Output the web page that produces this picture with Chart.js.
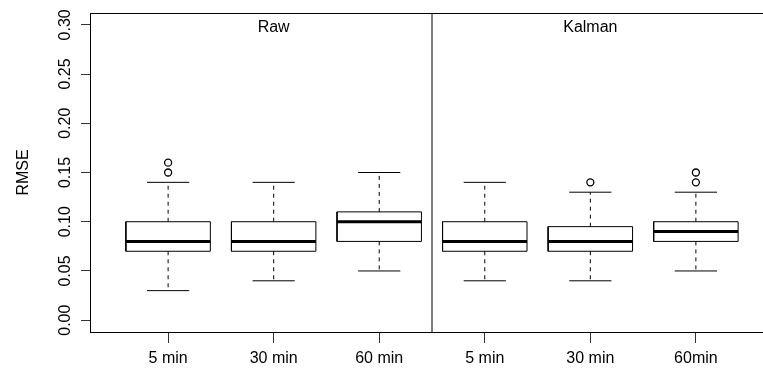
<!DOCTYPE html>
<html>
<head>
<meta charset="utf-8">
<script src="https://cdn.jsdelivr.net/npm/chart.js@4.4.0/dist/chart.umd.min.js"></script>
<style>
  html, body { margin: 0; padding: 0; background: #fff; overflow: hidden; }
  #wrap { width: 800px; height: 372px; }
</style>
</head>
<body>
<div id="wrap"><canvas id="ControlBoxplot"></canvas></div>
<script>
// box plot values
var categories = ['5 min', '30 min', '60 min', '5 min', '30 min', '60min'];
var panelTitles = ['Raw', 'Kalman'];
var whiskerLow = [0.03, 0.04, 0.05, 0.04, 0.04, 0.05];
var q1 = [0.07, 0.07, 0.08, 0.07, 0.07, 0.08];
var medians = [0.08, 0.08, 0.10, 0.08, 0.08, 0.09];
var q3 = [0.10, 0.10, 0.11, 0.10, 0.095, 0.10];
var whiskerHigh = [0.14, 0.14, 0.15, 0.14, 0.13, 0.13];
var outliers = [[0.15, 0.16], [], [], [], [0.14], [0.14, 0.15]];
var yTickValues = [0, 0.05, 0.10, 0.15, 0.20, 0.25, 0.30];
var yTickLabels = ['0.00', '0.05', '0.10', '0.15', '0.20', '0.25', '0.30'];
var yTitle = 'RMSE';

var FONT = '"Liberation Sans", Arial, Helvetica, sans-serif';
var BOX_HALF = 0.4;   // half box width, in category units
var CAP_HALF = 0.2;   // half staple width
var Y_MIN = -0.012, Y_MAX = 0.312;
var X_MIN = 0.26, X_MAX = 6.74;

var boxPts = [], medPts = [], whiskPts = [], capPts = [], outPts = [];
for (var i = 0; i < categories.length; i++) {
    var x = i + 1;
    boxPts.push({x: x - BOX_HALF, y: q1[i]}, {x: x + BOX_HALF, y: q1[i]},
                {x: x + BOX_HALF, y: q3[i]}, {x: x - BOX_HALF, y: q3[i]},
                {x: x - BOX_HALF, y: q1[i]}, {x: x, y: null});
    medPts.push({x: x - BOX_HALF, y: medians[i]}, {x: x + BOX_HALF, y: medians[i]}, {x: x, y: null});
    whiskPts.push({x: x, y: q3[i]}, {x: x, y: whiskerHigh[i]}, {x: x, y: null},
                  {x: x, y: q1[i]}, {x: x, y: whiskerLow[i]}, {x: x, y: null});
    capPts.push({x: x - CAP_HALF, y: whiskerHigh[i]}, {x: x + CAP_HALF, y: whiskerHigh[i]}, {x: x, y: null},
                {x: x - CAP_HALF, y: whiskerLow[i]}, {x: x + CAP_HALF, y: whiskerLow[i]}, {x: x, y: null});
    for (var k = 0; k < outliers[i].length; k++) {
        outPts.push({x: x, y: outliers[i][k]});
    }
}
// panel split between the third and fourth box
var splitX = 3.5;
var dividerPts = [{x: splitX, y: Y_MIN}, {x: splitX, y: Y_MAX}];

var lineDs = function (data, extra) {
    var ds = {
        data: data,
        showLine: true,
        spanGaps: false,
        borderColor: '#000',
        borderWidth: 1,
        pointRadius: 0,
        pointHoverRadius: 0,
        fill: false
    };
    for (var key in extra) ds[key] = extra[key];
    return ds;
};

var framePlugin = {
    id: 'framePlugin',
    beforeDatasetsDraw: function (chart) {
        var ctx = chart.ctx, a = chart.chartArea;
        ctx.save();
        ctx.strokeStyle = '#000';
        ctx.lineWidth = 1;
        ctx.strokeRect(a.left + 0.5, a.top + 0.5, a.right - a.left, a.bottom - a.top);
        ctx.restore();
    },
    afterDraw: function (chart) {
        var ctx = chart.ctx, a = chart.chartArea;
        var ys = chart.scales.y, xs = chart.scales.x;
        ctx.save();
        ctx.fillStyle = '#000';
        ctx.font = '16px ' + FONT;
        ctx.textAlign = 'center';
        ctx.textBaseline = 'alphabetic';
        // rotated y tick labels
        for (var i = 0; i < yTickValues.length; i++) {
            ctx.save();
            ctx.translate(70, ys.getPixelForValue(yTickValues[i]));
            ctx.rotate(-Math.PI / 2);
            ctx.fillText(yTickLabels[i], 0, 0);
            ctx.restore();
        }
        // axis title
        ctx.save();
        ctx.translate(28, (a.top + a.bottom) / 2);
        ctx.rotate(-Math.PI / 2);
        ctx.fillText(yTitle, 0, 0);
        ctx.restore();
        // panel titles, centred over each group of three boxes
        for (var p = 0; p < panelTitles.length; p++) {
            ctx.fillText(panelTitles[p], xs.getPixelForValue(p * 3 + 2), a.top + 19);
        }
        ctx.restore();
    }
};

var ctxB = document.getElementById('ControlBoxplot').getContext('2d');
var boxChart = new Chart(ctxB, {
    type: 'scatter',
    data: {
        datasets: [
            lineDs(boxPts, {}),
            lineDs(medPts, {borderWidth: 3}),
            lineDs(whiskPts, {borderDash: [4, 4]}),
            lineDs(capPts, {}),
            lineDs(dividerPts, {}),
            {
                data: outPts,
                showLine: false,
                pointRadius: 3.5,
                pointHoverRadius: 3.5,
                pointBorderWidth: 1.3,
                pointBorderColor: '#000',
                pointBackgroundColor: 'rgba(0,0,0,0)'
            }
        ]
    },
    options: {
        responsive: true,
        maintainAspectRatio: false,
        animation: false,
        events: [],
        layout: { padding: { top: 13, right: 26, left: 0, bottom: 0 } },
        plugins: { legend: { display: false }, tooltip: { enabled: false } },
        scales: {
            x: {
                type: 'linear',
                min: X_MIN,
                max: X_MAX,
                afterBuildTicks: function (s) {
                    s.ticks = categories.map(function (c, i) { return { value: i + 1 }; });
                },
                afterFit: function (s) { s.height = 40; },
                border: { display: false },
                grid: { drawOnChartArea: false, tickLength: 11, tickColor: '#333', tickWidth: 1 },
                ticks: {
                    color: '#000',
                    font: { size: 16, family: FONT },
                    padding: 6,
                    maxRotation: 0,
                    autoSkip: false,
                    callback: function (v) { return categories[Math.round(v) - 1]; }
                }
            },
            y: {
                type: 'linear',
                min: Y_MIN,
                max: Y_MAX,
                afterBuildTicks: function (s) {
                    s.ticks = yTickValues.map(function (v) { return { value: v }; });
                },
                afterFit: function (s) { s.width = 90; },
                border: { display: false },
                grid: { drawOnChartArea: false, tickLength: 9, tickColor: '#333', tickWidth: 1 },
                ticks: { display: false }
            }
        }
    },
    plugins: [framePlugin]
});
</script>
</body>
</html>
